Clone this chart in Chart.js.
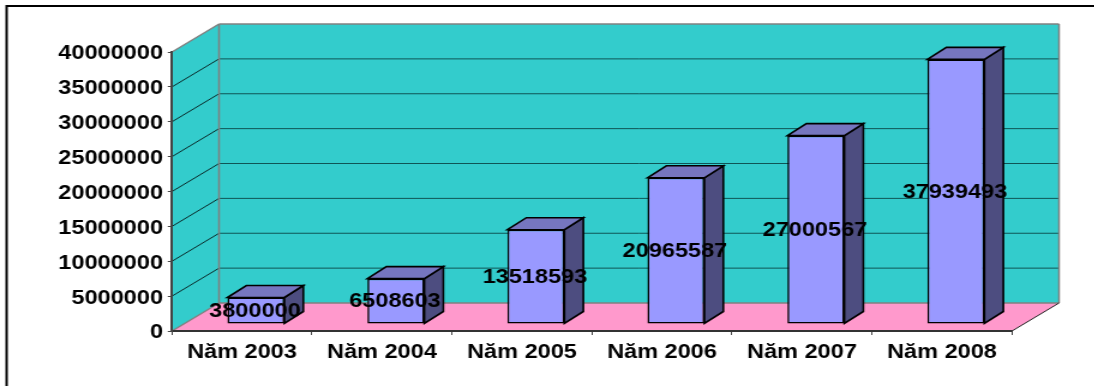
<!DOCTYPE html>
<html>
<head>
<meta charset="utf-8">
<title>Năm 2003 - 2008</title>
<style>
    html, body { margin: 0; padding: 0; background: #fff; overflow: hidden; }
    #wrap { width: 1094px; height: 386px; overflow: hidden; }
    /* the axis text is wide, so the whole canvas is stretched sideways */
    #chart { display: block; transform-origin: 0 0; transform: scaleX(1.2); }
</style>
<script src="https://cdn.jsdelivr.net/npm/chart.js@4"></script>
</head>
<body>
<div id="wrap"><canvas id="chart" width="912" height="386"></canvas></div>
<script>
const categories = ['Năm 2003', 'Năm 2004', 'Năm 2005', 'Năm 2006', 'Năm 2007', 'Năm 2008'];
const values = [3800000, 6508603, 13518593, 20965587, 27000567, 37939493];
const axisMax = 40000000;
const axisStep = 5000000;

const FONT = 'bold 19.6px "Liberation Sans", Arial, sans-serif';
const WALL_DX = 39.2, WALL_DY = 28;     // depth of the box behind the plot
const BAR_SHIFT_X = 11.6, BAR_SHIFT_Y = 7;   // bars stand part way back on the floor
const BAR_DX = 15.8, BAR_DY = 12;       // depth of each bar

function polygon(ctx, pts, fill, stroke, lineWidth) {
    ctx.beginPath();
    pts.forEach((p, i) => i ? ctx.lineTo(p[0], p[1]) : ctx.moveTo(p[0], p[1]));
    ctx.closePath();
    if (fill) {
        ctx.fillStyle = fill;
        ctx.fill();
    }
    if (stroke) {
        ctx.strokeStyle = stroke;
        ctx.lineWidth = lineWidth || 1;
        ctx.stroke();
    }
}

function line(ctx, x1, y1, x2, y2, color, width) {
    ctx.beginPath();
    ctx.moveTo(x1, y1);
    ctx.lineTo(x2, y2);
    ctx.strokeStyle = color;
    ctx.lineWidth = width;
    ctx.stroke();
}

// outer frame, walls, floor and the grid lines running round them
const boxPlugin = {
    id: 'box3d',
    beforeDraw(chart) {
        const ctx = chart.ctx;
        const { left, right, top, bottom } = chart.chartArea;
        const y = chart.scales.y;
        ctx.save();

        line(ctx, 5.5, 6, 912, 6, '#000', 2);
        line(ctx, 5.5, 5, 5.5, 386, '#000', 2);

        polygon(ctx, [[left + WALL_DX, top - WALL_DY], [right + WALL_DX, top - WALL_DY],
            [right + WALL_DX, bottom - WALL_DY], [left + WALL_DX, bottom - WALL_DY]], '#33CCCC');
        polygon(ctx, [[left, top], [left + WALL_DX, top - WALL_DY],
            [left + WALL_DX, bottom - WALL_DY], [left, bottom]], '#33CCCC');
        polygon(ctx, [[left, bottom], [left + WALL_DX, bottom - WALL_DY],
            [right + WALL_DX, bottom - WALL_DY], [right, bottom]], '#FF99CC');

        y.ticks.forEach(t => {
            if (t.value === 0 || t.value === axisMax) return;
            const py = y.getPixelForValue(t.value);
            line(ctx, left, py, left + WALL_DX, py - WALL_DY, '#0a2a2a', 1);
            line(ctx, left + WALL_DX, py - WALL_DY, right + WALL_DX, py - WALL_DY, '#0f5555', 1);
        });

        const grey = '#808080';
        line(ctx, left, top, left + WALL_DX, top - WALL_DY, grey, 1.5);
        line(ctx, left + WALL_DX, top - WALL_DY, right + WALL_DX, top - WALL_DY, grey, 1.5);
        line(ctx, right + WALL_DX, top - WALL_DY, right + WALL_DX, bottom - WALL_DY, grey, 1.5);
        line(ctx, left + WALL_DX, top - WALL_DY, left + WALL_DX, bottom - WALL_DY, grey, 1.5);
        line(ctx, left + WALL_DX, bottom - WALL_DY, right + WALL_DX, bottom - WALL_DY, grey, 1.5);
        line(ctx, left, bottom, left + WALL_DX, bottom - WALL_DY, grey, 1.5);
        line(ctx, right, bottom, right + WALL_DX, bottom - WALL_DY, '#222', 1);
        ctx.restore();
    },
    // bar sides go down first, the library then paints the front faces on top
    beforeDatasetDraw(chart, args) {
        const ctx = chart.ctx;
        ctx.save();
        ctx.translate(BAR_SHIFT_X, -BAR_SHIFT_Y);
        args.meta.data.forEach(bar => {
            const l = bar.x - bar.width / 2, r = bar.x + bar.width / 2;
            polygon(ctx, [[r, bar.y], [r + BAR_DX, bar.y - BAR_DY],
                [r + BAR_DX, bar.base - BAR_DY], [r, bar.base]], '#4D4D80', '#000', 1.6);
            polygon(ctx, [[l, bar.y], [l + BAR_DX, bar.y - BAR_DY],
                [r + BAR_DX, bar.y - BAR_DY], [r, bar.y]], '#7676BF', '#000', 1.6);
        });
    },
    afterDatasetDraw(chart) {
        chart.ctx.restore();
    },
    afterDatasetsDraw(chart) {
        const ctx = chart.ctx;
        const meta = chart.getDatasetMeta(0);
        ctx.save();
        ctx.font = FONT;
        ctx.fillStyle = '#000';
        ctx.textAlign = 'center';
        ctx.textBaseline = 'middle';
        meta.data.forEach((bar, i) => {
            const cy = (bar.y + bar.base) / 2 - BAR_SHIFT_Y;
            ctx.fillText(String(values[i]), bar.x + BAR_SHIFT_X - 0.8, cy + 1);
        });
        ctx.restore();
    }
};

const tickFont = { family: '"Liberation Sans", Arial, sans-serif', size: 19.6, weight: 'bold' };

new Chart(document.getElementById('chart').getContext('2d'), {
    type: 'bar',
    plugins: [boxPlugin],
    data: {
        labels: categories,
        datasets: [{
            data: values,
            backgroundColor: '#9999FF',
            borderColor: '#000',
            borderWidth: 1.6,
            borderSkipped: false,
            barPercentage: 0.407,
            categoryPercentage: 1
        }]
    },
    options: {
        responsive: false,
        animation: false,
        layout: { padding: { top: 52, right: 68.7, left: 0, bottom: 0 } },
        plugins: { legend: { display: false }, tooltip: { enabled: false } },
        scales: {
            x: {
                afterFit: s => { s.height = 55; },
                grid: { drawOnChartArea: false, color: '#444', tickLength: 4 },
                border: { color: '#333', width: 2 },
                ticks: { font: tickFont, color: '#000', padding: 6, maxRotation: 0 }
            },
            y: {
                min: 0,
                max: axisMax,
                afterFit: s => { s.width = 143.3; },
                grid: { drawOnChartArea: false, color: '#444', tickLength: 3.5 },
                border: { color: '#444', width: 2 },
                ticks: {
                    stepSize: axisStep,
                    font: tickFont,
                    color: '#000',
                    padding: 4,
                    labelOffset: 2,
                    callback: v => String(v)
                }
            }
        }
    }
});
</script>
</body>
</html>
